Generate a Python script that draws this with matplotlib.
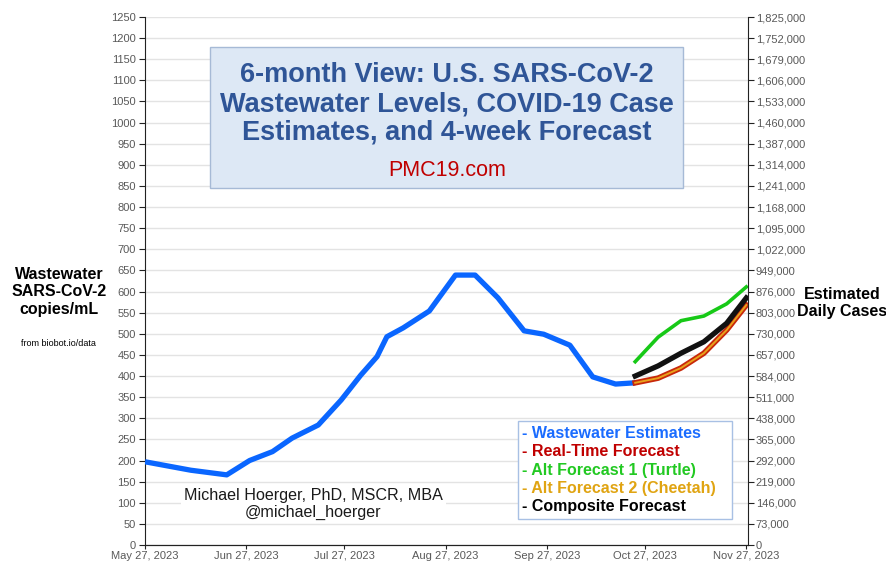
import numpy as np
import pandas as pd
import matplotlib.pyplot as plt
import matplotlib.dates as mdates

plt.rcParams['font.family'] = ['Liberation Sans', 'DejaVu Sans']

start = pd.Timestamp("2023-05-27")

# Wastewater estimates (copies/mL), day offsets from May 27, 2023
ww_days = [0, 7, 14, 21, 25, 32, 39, 45, 53, 60, 66, 71, 74, 79, 87, 95, 101,
           108, 116, 122, 130, 137, 144, 150]
ww_vals = [197, 187, 177, 170, 166, 200, 221, 253, 284, 343, 402, 446, 493,
           514, 554, 639, 639, 585, 507, 499, 473, 398, 381, 384]

# 4-week forecasts
fc_days = [150, 157, 164, 171, 178, 184]
realtime = [384, 395, 419, 454, 509, 568]
turtle = [434, 492, 531, 542, 571, 611]
cheetah = [384, 395, 419, 454, 509, 568]
composite = [400, 424, 454, 481, 525, 585]

ww_dates = [start + pd.Timedelta(days=d) for d in ww_days]
fc_dates = [start + pd.Timedelta(days=d) for d in fc_days]

fig = plt.figure(figsize=(8.86, 5.63), dpi=100)
ax = fig.add_axes([0.1637, 0.032, 0.6805, 0.9378])
ax2 = ax.twinx()

gray = "#595959"
ax.set_ylim(0, 1250)
ax.set_yticks(np.arange(0, 1251, 50))
ax.grid(axis="y", color="#e3e3e3", linewidth=1)
ax.set_axisbelow(True)

ax.plot(ww_dates, ww_vals, color="#0a66ff", lw=3.8, solid_capstyle="butt", zorder=3)
ax.plot(fc_dates, turtle, color="#17c917", lw=2.6, zorder=3)
ax.plot(fc_dates, composite, color="#111111", lw=3.8, zorder=4)
ax.plot(fc_dates, realtime, color="#c8280a", lw=4.0, zorder=3)
ax.plot(fc_dates, cheetah, color="#e8a21c", lw=1.4, zorder=3)

ticks = [start + pd.DateOffset(months=m) for m in range(7)]
ax.set_xlim(start, ticks[-1] + pd.Timedelta(days=0.5))
ax.set_xticks(ticks)
ax.xaxis.set_major_formatter(mdates.DateFormatter("%b %d, %Y"))

right_ticks = np.arange(0, 1825001, 73000)
ax2.set_ylim(0, 1825000)
ax2.set_yticks(right_ticks)
ax2.set_yticklabels([f"{v:,}" for v in right_ticks])

for a in (ax, ax2):
    a.tick_params(labelsize=8, colors=gray, length=4, pad=2.5)
    a.tick_params(axis="both", color="#222222")
    a.spines["top"].set_visible(False)
    for s in ("left", "right", "bottom"):
        a.spines[s].set_color("#222222")
ax.tick_params(axis="x", length=3, pad=1)
ax2.tick_params(pad=1.5)
ax.spines["right"].set_visible(False)
ax2.spines["left"].set_visible(False)

# title box
box_t = plt.Rectangle((210 / 886, 1 - 188 / 563), 473 / 886, 141 / 563,
                      transform=fig.transFigure, fc="#dde8f5", ec="#a6bad6",
                      lw=1, zorder=10)
fig.add_artist(box_t)
fig.text(447 / 886, 1 - 104 / 563,
         "6-month View: U.S. SARS-CoV-2\nWastewater Levels, COVID-19 Case\nEstimates, and 4-week Forecast",
         ha="center", va="center", fontsize=19.5, fontweight="bold", color="#2f5597",
         linespacing=1.15, zorder=11)
fig.text(447 / 886, 1 - 170 / 563, "PMC19.com", ha="center", va="center",
         fontsize=15.5, color="#c00000", zorder=11)

# author text
ax.text(0.279, 0.078, "Michael Hoerger, PhD, MSCR, MBA\n@michael_hoerger",
        transform=ax.transAxes, ha="center", va="center", fontsize=11.6,
        color="#1a1a1a", linespacing=1.2, zorder=5,
        bbox=dict(boxstyle="square,pad=0.2", fc="white", ec="none"))

# legend box
leg_items = [("- Wastewater Estimates", "#1a6cff"),
             ("- Real-Time Forecast", "#c00000"),
             ("- Alt Forecast 1 (Turtle)", "#22c922"),
             ("- Alt Forecast 2 (Cheetah)", "#e0a412"),
             ("- Composite Forecast", "#000000")]
box = plt.Rectangle((518 / 886, 1 - 519 / 563), 214 / 886, 98 / 563,
                    transform=fig.transFigure, fc="white", ec="#a8c0e4", lw=1,
                    zorder=10)
fig.add_artist(box)
for i, (label, col) in enumerate(leg_items):
    fig.text(522 / 886, 1 - (433 + i * 18.5) / 563, label, ha="left", va="center",
             fontsize=11.5, fontweight="bold", color=col, zorder=11)

# axis labels
fig.text(59 / 886, 1 - 292 / 563, "Wastewater\nSARS-CoV-2\ncopies/mL", ha="center",
         va="center", fontsize=11.5, fontweight="bold", linespacing=1.22)
fig.text(58 / 886, 1 - 343 / 563, "from biobot.io/data", ha="center", va="center",
         fontsize=6.5)
fig.text(842 / 886, 1 - 303 / 563, "Estimated\nDaily Cases", ha="center",
         va="center", fontsize=11.5, fontweight="bold", linespacing=1.15)

fig.savefig("out.png", dpi=100)
